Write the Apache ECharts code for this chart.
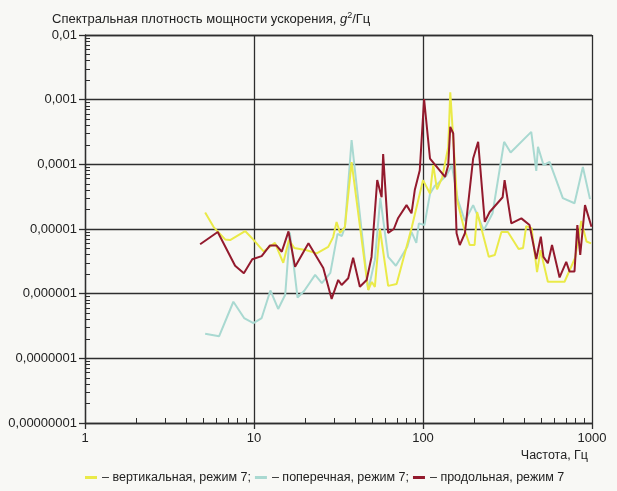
<!DOCTYPE html>
<html>
<head>
<meta charset="utf-8">
<script src="https://cdn.jsdelivr.net/npm/echarts@6/dist/echarts.min.js"></script>
<style>
  html, body { margin: 0; padding: 0; background: #f8f8f5; }
  #main { width: 617px; height: 491px; }
</style>
</head>
<body>
<div id="main"></div>
<script>
// подписи осей
var xTickLabels = ['1', '10', '100', '1000'];
var yTickLabels = ['0,00000001', '0,0000001', '0,000001', '0,00001', '0,0001', '0,001', '0,01'];

// вертикальная, режим 7
var yellowFreq = [5.14, 5.77, 6.75, 7.22, 8.86, 9.88, 11.4, 13.3, 14.9, 16.1, 17.3, 20.5, 23.5, 27.5, 29.4, 30.8, 32.3, 34.5, 37.8, 47.4,
  49.8, 51.9, 55.6, 62.2, 69.8, 85.9, 100, 110, 115, 121, 130, 141, 145, 154, 159, 174, 189, 202, 209, 245,
  266, 291, 318, 368, 391, 408, 439, 473, 496, 548, 688, 794, 864, 928, 987];
var yellowPsd = [1.8e-5, 1.07e-5, 6.9e-6, 6.75e-6, 9.3e-6, 6.9e-6, 4.5e-6, 6.1e-6, 3.0e-6, 6.75e-6, 5.1e-6, 4.7e-6, 4.2e-6, 5.3e-6, 7.5e-6, 1.28e-5, 8.7e-6, 1.07e-5, 1.08e-4, 1.14e-6,
  1.52e-6, 1.27e-6, 1.0e-5, 1.32e-6, 1.41e-6, 1.07e-5, 5.7e-5, 3.55e-5, 9.7e-5, 4.1e-5, 6.3e-5, 1.84e-4, 1.3e-3, 1.08e-4, 2.8e-5, 1.08e-5, 5.65e-6, 5.65e-6, 1.83e-5, 3.73e-6,
  3.96e-6, 9.0e-6, 9.0e-6, 4.9e-6, 5.1e-6, 1.11e-5, 1.03e-5, 2.16e-6, 4.7e-6, 1.53e-6, 1.53e-6, 3.56e-6, 1.33e-5, 6.4e-6, 6.0e-6];

// поперечная, режим 7
var cyanFreq = [5.14, 6.22, 7.55, 8.74, 9.92, 11.1, 12.5, 13.9, 15.3, 16.3, 18.1, 19.8, 23.0, 25.2, 28.3, 31.2, 33.1, 34.5, 37.8, 47.4,
  51.9, 55.9, 62.2, 69.1, 80.8, 85.5, 91.3, 94.5, 102, 110, 117, 123, 138, 148, 161, 177, 198, 229, 258, 302,
  330, 437, 468, 479, 517, 561, 672, 788, 883, 973];
var cyanPsd = [2.4e-7, 2.2e-7, 7.5e-7, 4.2e-7, 3.5e-7, 4.2e-7, 1.12e-6, 5.8e-7, 9.6e-7, 8.8e-6, 8.7e-7, 1.1e-6, 1.95e-6, 1.45e-6, 2.1e-6, 8.4e-6, 7.8e-6, 1.07e-5, 2.37e-4, 1.14e-6,
  3.3e-6, 3.0e-5, 3.7e-6, 2.7e-6, 5.3e-6, 9.0e-6, 6.1e-6, 1.22e-5, 1.15e-5, 3.5e-5, 4.6e-5, 5.1e-5, 6.8e-5, 9.7e-5, 2.8e-5, 1.33e-5, 2.34e-5, 9.6e-6, 1.75e-5, 2.23e-4,
  1.52e-4, 3.18e-4, 7.9e-5, 1.86e-4, 9.7e-5, 1.09e-4, 3.0e-5, 2.5e-5, 9.1e-5, 2.9e-5];

// продольная, режим 7
var redFreq = [4.80, 6.10, 7.73, 8.71, 9.77, 11.1, 12.4, 13.6, 14.6, 16.0, 17.5, 21.0, 25.7, 28.8, 31.5, 33.0, 36.1, 38.6, 42.3, 46.4,
  49.6, 53.6, 56.9, 58.1, 62.2, 67.2, 71.3, 79.9, 85.5, 89.4, 95.7, 101.5, 110, 135, 141, 145, 151, 158, 165, 177,
  198, 212, 232, 248, 296, 304, 333, 382, 427, 468, 498, 516, 548, 580, 643, 704, 736, 788, 819, 852,
  909, 993];
var redPsd = [5.8e-6, 9.0e-6, 2.7e-6, 2.07e-6, 3.4e-6, 3.8e-6, 5.55e-6, 5.55e-6, 4.45e-6, 9.2e-6, 2.6e-6, 6.0e-6, 2.5e-6, 8.3e-7, 1.63e-6, 1.36e-6, 1.73e-6, 3.6e-6, 1.28e-6, 1.63e-6,
  3.7e-6, 5.7e-5, 3.1e-5, 1.44e-4, 8.7e-6, 1.0e-5, 1.48e-5, 2.34e-5, 1.75e-5, 4.0e-5, 8.1e-5, 1.02e-3, 1.23e-4, 6.4e-5, 9.7e-5, 3.8e-4, 3.0e-4, 8.6e-6, 5.65e-6, 8.6e-6,
  1.23e-4, 2.23e-4, 1.29e-5, 1.83e-5, 3.1e-5, 5.7e-5, 1.22e-5, 1.46e-5, 1.15e-5, 3.44e-6, 7.6e-6, 3.7e-6, 2.95e-6, 5.65e-6, 1.78e-6, 3.1e-6, 2.2e-6, 2.2e-6, 1.15e-5, 3.96e-6,
  2.34e-5, 1.08e-5];

var seriesNames = ['– вертикальная, режим 7;', '– поперечная, режим 7;', '– продольная, режим 7'];

function pairs(fx, fy) {
    var out = [];
    for (var i = 0; i < fx.length; i++) out.push([fx[i], fy[i]]);
    return out;
}

// промежуточные деления логарифмической шкалы (2..9 в каждой декаде)
function minorValues(fromExp, toExp) {
    var v = [];
    for (var e = fromExp; e < toExp; e++) {
        for (var k = 2; k <= 9; k++) v.push(parseFloat((k * Math.pow(10, e)).toPrecision(3)));
    }
    return v;
}

var axisColor = '#2e2e2e';
var font = 'Liberation Sans, Arial, sans-serif';

var chart = echarts.init(document.getElementById('main'));
var option = {
    backgroundColor: '#f8f8f5',
    animation: false,
    title: [{
        text: '{t|Спектральная плотность мощности ускорения, }{i|g}{s|2}{t|/Гц}',
        left: 47,
        top: 6,
        textStyle: {
            fontWeight: 'normal',
            rich: {
                t: { fontSize: 13, color: '#222', fontWeight: 'normal', fontFamily: font },
                i: { fontSize: 13, color: '#222', fontWeight: 'normal', fontStyle: 'italic', fontFamily: font },
                s: { fontSize: 9, color: '#222', fontWeight: 'normal', fontFamily: font, verticalAlign: 'top', padding: [0, 0, 7, 0] }
            }
        }
    }, {
        text: 'Частота, Гц',
        right: 24,
        top: 444,
        textStyle: { fontSize: 12.5, fontWeight: 'normal', color: '#222', fontFamily: font }
    }],
    legend: {
        left: 80,
        top: 466,
        icon: 'rect',
        itemWidth: 12,
        itemHeight: 3,
        itemGap: 4,
        textStyle: { fontSize: 12.5, color: '#222', fontFamily: font },
        data: seriesNames
    },
    grid: { left: 85, right: 25, top: 35, bottom: 68 },
    xAxis: [{
        type: 'log',
        logBase: 10,
        min: 1,
        max: 1000,
        axisLine: { lineStyle: { color: axisColor, width: 1.3 } },
        axisTick: { length: 6, lineStyle: { color: axisColor, width: 1.3 } },
        axisLabel: {
            margin: 9,
            fontSize: 13,
            color: '#222',
            fontFamily: font,
            formatter: function (v) { return xTickLabels[Math.round(Math.log10(v))]; }
        },
        splitLine: { show: true, lineStyle: { color: axisColor, width: 1.3 } }
    }, {
        type: 'log',
        logBase: 10,
        min: 1,
        max: 1000,
        position: 'bottom',
        axisLine: { show: false },
        axisLabel: { show: false },
        splitLine: { show: false },
        axisTick: { inside: true, length: 5, customValues: minorValues(0, 3), lineStyle: { color: axisColor, width: 1 } }
    }],
    yAxis: [{
        type: 'log',
        logBase: 10,
        min: 1e-8,
        max: 1e-2,
        axisLine: { show: true, lineStyle: { color: axisColor, width: 1.3 } },
        axisTick: { show: true, length: 6, lineStyle: { color: axisColor, width: 1.3 } },
        axisLabel: {
            margin: 8,
            fontSize: 13,
            color: '#222',
            fontFamily: font,
            formatter: function (v) { return yTickLabels[Math.round(Math.log10(v)) + 8]; }
        },
        splitLine: { show: true, lineStyle: { color: axisColor, width: 1.3 } }
    }, {
        type: 'log',
        logBase: 10,
        min: 1e-8,
        max: 1e-2,
        position: 'left',
        axisLine: { show: false },
        axisLabel: { show: false },
        splitLine: { show: false },
        axisTick: { show: true, inside: true, length: 5, customValues: minorValues(-8, -2), lineStyle: { color: axisColor, width: 1 } }
    }],
    series: [{
        name: seriesNames[0],
        type: 'line',
        z: 3,
        showSymbol: false,
        color: '#eaea48',
        lineStyle: { width: 2, color: '#eaea48' },
        data: pairs(yellowFreq, yellowPsd)
    }, {
        name: seriesNames[1],
        type: 'line',
        z: 2,
        showSymbol: false,
        color: '#a9d9d1',
        lineStyle: { width: 2, color: '#a9d9d1' },
        data: pairs(cyanFreq, cyanPsd)
    }, {
        name: seriesNames[2],
        type: 'line',
        z: 4,
        showSymbol: false,
        color: '#931a2d',
        lineStyle: { width: 2, color: '#931a2d' },
        data: pairs(redFreq, redPsd)
    }]
};
chart.setOption(option);
</script>
</body>
</html>
